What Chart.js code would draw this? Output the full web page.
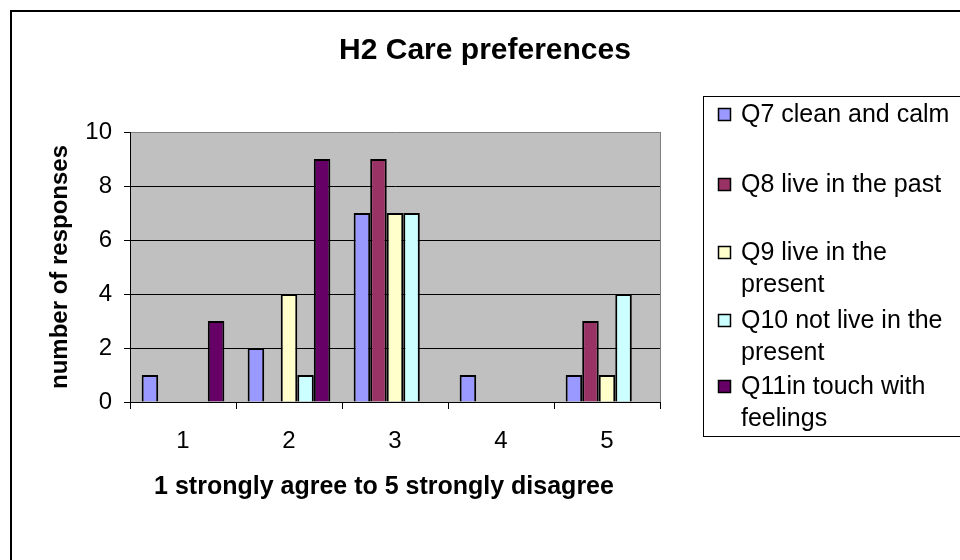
<!DOCTYPE html>
<html>
<head>
<meta charset="utf-8">
<script src="https://cdn.jsdelivr.net/npm/chart.js@4"></script>
<style>
  html, body { margin: 0; padding: 0; background: #fff; }
  #wrap { width: 960px; height: 560px; }
</style>
</head>
<body>
<div id="wrap"><canvas id="careChart" width="960" height="560"></canvas></div>
<script>
const categories = ['1', '2', '3', '4', '5'];
const q7 = [1, 2, 7, 1, 1];
const q8 = [0, 0, 9, 0, 3];
const q9 = [0, 4, 7, 0, 1];
const q10 = [0, 1, 7, 0, 4];
const q11 = [3, 9, 0, 0, 0];
const seriesLines = [
    ['Q7 clean and calm'],
    ['Q8 live in the past'],
    ['Q9 live in the', 'present'],
    ['Q10 not live in the', 'present'],
    ['Q11in touch with', 'feelings']
];
const seriesColors = ['#9999FF', '#993366', '#FFFFCC', '#CCFFFF', '#660066'];
const yTicks = [0, 2, 4, 6, 8, 10];
const xTitle = '1 strongly agree to 5 strongly disagree';

const FONT = "'Liberation Sans', Arial, sans-serif";

// excel style frame, titles, grey plot area and legend box
const excelLook = {
    id: 'excelLook',
    beforeDraw(chart) {
        const ctx = chart.ctx;
        const a = chart.chartArea;
        ctx.save();
        ctx.fillStyle = '#C0C0C0';
        ctx.fillRect(a.left, a.top, a.right - a.left, a.bottom - a.top);
        ctx.restore();
    },
    afterDraw(chart) {
        const ctx = chart.ctx;
        const a = chart.chartArea;
        ctx.save();
        // outer frame
        ctx.strokeStyle = '#000';
        ctx.lineWidth = 2;
        ctx.strokeRect(11, 11, 980, 580);
        // right edge of plot area
        ctx.strokeStyle = '#808080';
        ctx.lineWidth = 1;
        ctx.beginPath();
        ctx.moveTo(a.right + 0.5, a.top);
        ctx.lineTo(a.right + 0.5, a.bottom);
        ctx.stroke();
        // title
        ctx.fillStyle = '#000';
        ctx.font = 'bold 30px ' + FONT;
        ctx.textAlign = 'center';
        ctx.textBaseline = 'middle';
        ctx.fillText('H2 Care preferences', 485, 51);
        // x axis title, a little left of the plot centre like excel
        ctx.font = 'bold 25px ' + FONT;
        ctx.fillText(xTitle, 384, 487);
        // legend
        ctx.strokeStyle = '#000';
        ctx.lineWidth = 1;
        ctx.strokeRect(703.5, 96.5, 300, 340);
        const rowY = [115, 185, 253, 321, 387];
        ctx.font = '25px ' + FONT;
        ctx.textAlign = 'left';
        chart.data.datasets.forEach((ds, i) => {
            ctx.fillStyle = ds.backgroundColor;
            ctx.fillRect(718.5, rowY[i] - 6.5, 12, 12);
            ctx.strokeStyle = '#000';
            ctx.lineWidth = 1.5;
            ctx.strokeRect(718.5, rowY[i] - 6.5, 12, 12);
            ctx.fillStyle = '#000';
            seriesLines[i].forEach((line, j) => {
                ctx.fillText(line, 741, rowY[i] + j * 32);
            });
        });
        ctx.restore();
    }
};

const datasets = [q7, q8, q9, q10, q11].map((values, i) => ({
    label: seriesLines[i].join(' '),
    data: values,
    backgroundColor: seriesColors[i],
    borderColor: '#000',
    borderWidth: 2,
    borderSkipped: 'start',
    categoryPercentage: 0.78,
    barPercentage: 1.0
}));

new Chart(document.getElementById('careChart').getContext('2d'), {
    type: 'bar',
    data: {
        labels: categories,
        datasets: datasets
    },
    plugins: [excelLook],
    options: {
        responsive: false,
        animation: false,
        layout: {
            padding: { left: 12, top: 132, right: 300, bottom: 0 }
        },
        plugins: {
            legend: { display: false },
            title: { display: false },
            tooltip: { enabled: false }
        },
        scales: {
            x: {
                afterFit: function(scale) { scale.height = 158; },
                grid: {
                    display: true,
                    offset: true,
                    drawOnChartArea: false,
                    drawTicks: true,
                    tickLength: 7,
                    color: '#000'
                },
                border: { display: true, color: '#000', width: 1 },
                ticks: {
                    color: '#000',
                    padding: 18,
                    font: { family: FONT, size: 24 }
                },
                title: { display: false }
            },
            y: {
                min: 0,
                max: 10,
                afterFit: function(scale) { scale.width = 118; },
                afterBuildTicks: function(scale) {
                    scale.ticks = yTicks.map(v => ({ value: v }));
                },
                grid: {
                    color: function(c) { return c.tick && c.tick.value === 10 ? '#808080' : '#000'; },
                    lineWidth: 1,
                    drawTicks: true,
                    tickLength: 6,
                    tickColor: '#000'
                },
                border: { display: true, color: '#000', width: 1 },
                ticks: {
                    color: '#000',
                    padding: 12,
                    font: { family: FONT, size: 24 }
                },
                title: {
                    display: true,
                    text: 'number of responses',
                    color: '#000',
                    font: { family: FONT, size: 24, weight: 'bold' },
                    padding: { top: 34, bottom: 0 }
                }
            }
        }
    }
});
</script>
</body>
</html>
